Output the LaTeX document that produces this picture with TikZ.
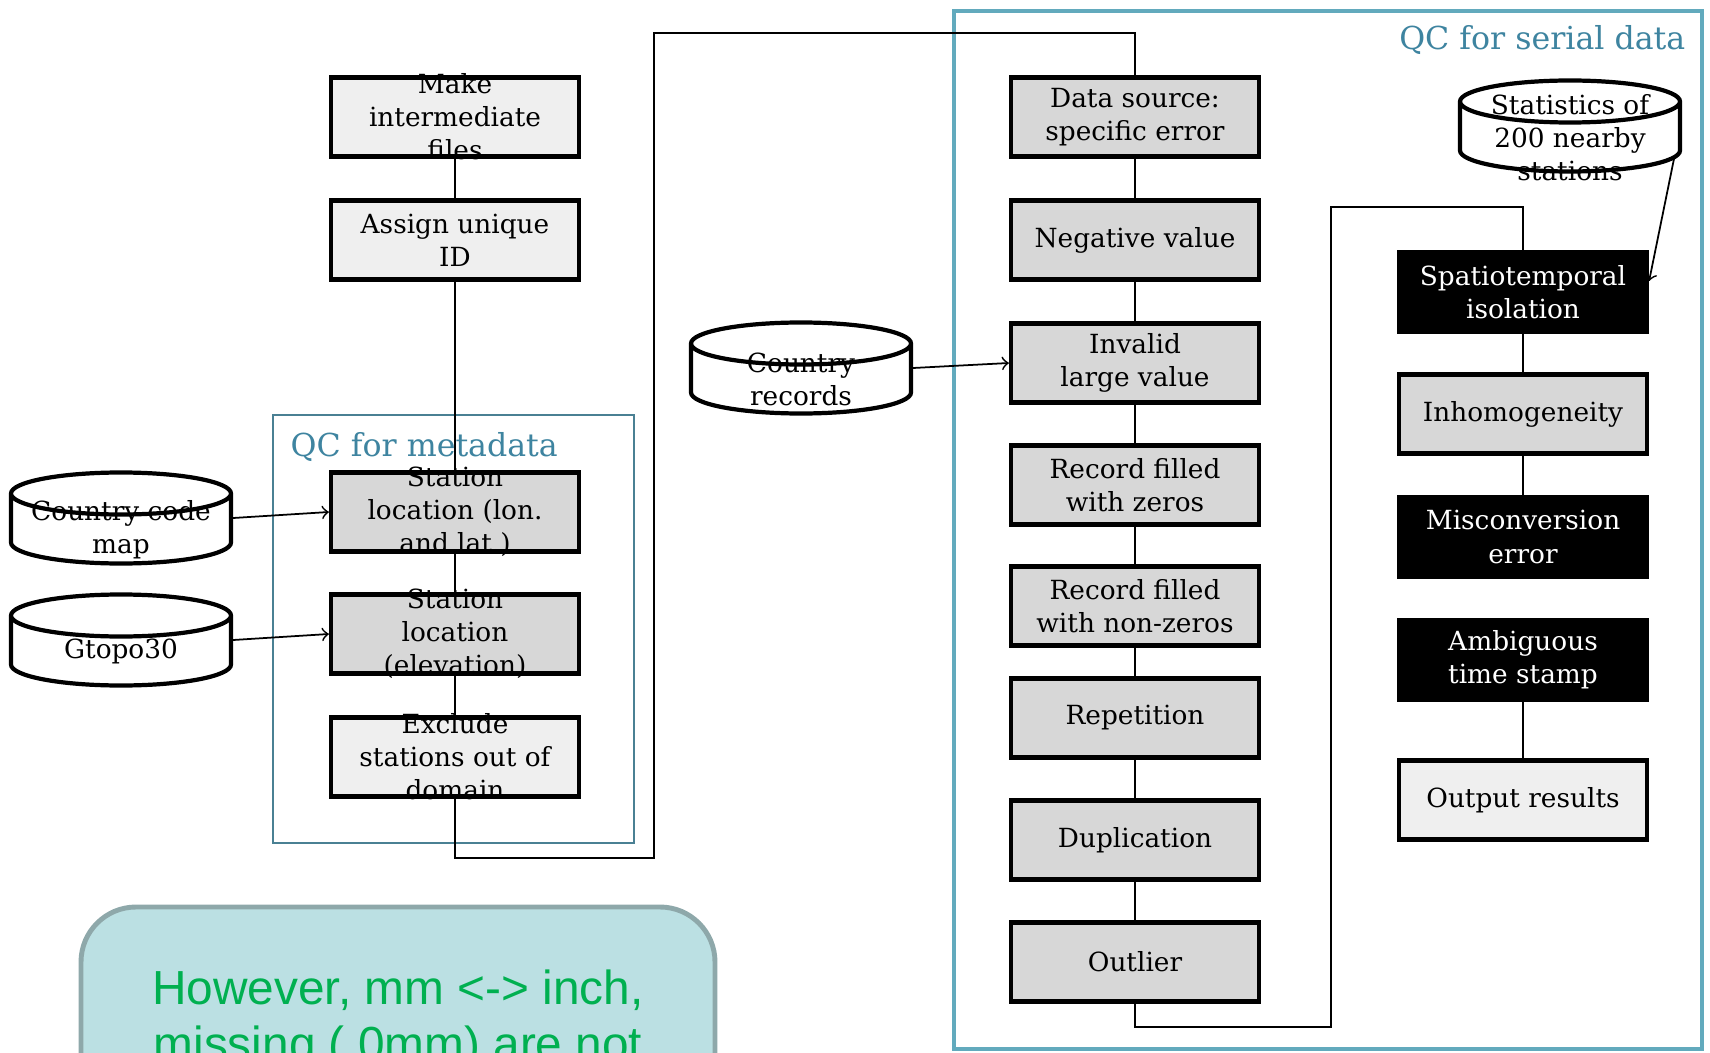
\documentclass[tikz,border=0pt]{standalone}
\usepackage{fontspec}
\setmainfont{DejaVu Serif}
\newfontfamily\notefont{Liberation Sans}
\usetikzlibrary{positioning,calc,shapes.geometric}
\definecolor{QCteal}{HTML}{62AABD}
\definecolor{QCdark}{HTML}{4A8093}
\definecolor{QCtext}{HTML}{3E84A0}
\definecolor{boxgray}{HTML}{D7D7D7}
\definecolor{boxlight}{HTML}{EFEFEF}
\definecolor{notefill}{HTML}{BBE0E3}
\definecolor{noteedge}{HTML}{8EA8AA}
\definecolor{notegreen}{HTML}{00B050}
\newcommand{\boxfont}{\fontsize{7.5}{9.4}\selectfont}

\begin{document}
\begin{tikzpicture}[x=0.1mm,y=-0.1mm,
  every node/.style={font=\boxfont, align=center},
  every label/.style={font=\boxfont, align=center},
  procbox/.style={draw, line width=1.2pt, fill=boxgray, minimum width=24.8mm, minimum height=7.9mm, inner sep=1pt},
  lightbox/.style={procbox, fill=boxlight},
  darkbox/.style={procbox, fill=black, text=white},
  store/.style={cylinder, shape border rotate=90, aspect=0.2, draw, line width=1.2pt, fill=white,
    anchor=shape center, minimum width=22mm, minimum height=9.1mm, inner sep=0pt,
    execute at begin node={\hspace*{21mm}}},
  link/.style={line width=0.5pt},
  feed/.style={line width=0.5pt, ->},
  qclabel/.style={font=\fontsize{9}{11}\selectfont, text=QCtext, inner sep=0pt},
  note/.style={rounded corners=5.5mm, fill=notefill, draw=noteedge, line width=1.4pt, minimum width=63.4mm, minimum height=22.6mm, text=notegreen, font=\notefont\fontsize{13.6}{15.9}\selectfont}]
  \useasboundingbox (0,0) rectangle (1710,1053);
  \clip (0,0) rectangle (1710,1053);
  \fill[white] (0,0) rectangle (1710,1053);

  % QC frames
  \draw[QCdark, line width=0.7pt] (273,415) rectangle (634,843);
  \node[qclabel, anchor=west] (qcmeta) at (290,447) {QC for metadata};
  \draw[QCteal, line width=0.9pt] (954,11) rectangle (1702,1049);
  \node[qclabel, anchor=east] (qcser) at (1686,40) {QC for serial data};

  % metadata column
  \node[lightbox, label={center:Make\\intermediate\\files}] (mkfile) at (455,117) {};
  \node[lightbox] (uid) at (455,240) {Assign unique\\ID};
  \node[procbox, label={center:Station\\location (lon.\\and lat.)}] (stll) at (455,512) {};
  \node[procbox, label={center:Station\\location\\(elevation)}] (stel) at (455,634) {};
  \node[lightbox, label={center:Exclude\\stations out of\\domain}] (excl) at (455,757) {};

  \node[store, label={center:Country code\\map}] (ccmap) at (121,518) {};
  \node[store, label={center:Gtopo30}] (gtopo) at (121,640) {};
  \node[store, label={center:Country\\records}] (crec) at (801,368) {};

  % serial column
  \node[procbox] (ds) at (1135,117) {Data source:\\specific error};
  \node[procbox] (neg) at (1135,240) {Negative value};
  \node[procbox] (inv) at (1135,363) {Invalid\\large value};
  \node[procbox] (rzero) at (1135,485) {Record filled\\with zeros};
  \node[procbox] (rnon) at (1135,606) {Record filled\\with non-zeros};
  \node[procbox] (rep) at (1135,718) {Repetition};
  \node[procbox] (dup) at (1135,840) {Duplication};
  \node[procbox] (outl) at (1135,962) {Outlier};

  \node[store, label={center:Statistics of\\200 nearby\\stations}] (stats) at (1570,126) {};
  \node[darkbox] (spat) at (1523,292) {Spatiotemporal\\isolation};
  \node[procbox] (inhom) at (1523,414) {Inhomogeneity};
  \node[darkbox] (misc) at (1523,537) {Misconversion\\error};
  \node[darkbox] (amb) at (1523,660) {Ambiguous\\time stamp};
  \node[lightbox] (outres) at (1523,800) {Output results};

  % connectors
  \coordinate (hop) at (654,33);
  \draw[link] (mkfile) -- (uid);
  \draw[link] (uid) -- (stll);
  \draw[link] (stll) -- (stel);
  \draw[link] (stel) -- (excl);
  \draw[link] (excl.south) |- (654,858) -- (hop) -| (ds.north);
  \draw[link] (ds) -- (neg);
  \draw[link] (neg) -- (inv);
  \draw[link] (inv) -- (rzero);
  \draw[link] (rzero) -- (rnon);
  \draw[link] (rnon) -- (rep);
  \draw[link] (rep) -- (dup);
  \draw[link] (dup) -- (outl);
  \draw[link] (outl.south) |- (1331,1027) -- (1331,207) -| (spat.north);
  \draw[link] (spat) -- (inhom);
  \draw[link] (inhom) -- (misc);
  \draw[link] (amb) -- (outres);

  \draw[feed] (ccmap.shape center -| ccmap.east) -- (stll.west);
  \draw[feed] (gtopo.shape center -| gtopo.east) -- (stel.west);
  \draw[feed] (crec.shape center -| crec.east) -- (inv.west);
  \draw[feed] ($(stats.shape center -| stats.east)+(-8,32)$) -- (spat.5);

  % remark
  \node[note] (memo) at (398,1020) {However, mm <-> inch,\\missing ( 0mm) are not};
\end{tikzpicture}
\end{document}
